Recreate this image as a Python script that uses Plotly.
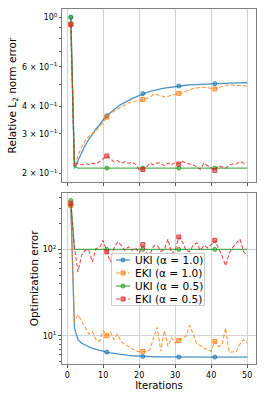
import plotly.graph_objects as go

iterations = list(range(1, 51))

# Top panel: relative L2 norm error
uki_a1_rel = [1.00, 0.210, 0.228, 0.248, 0.267, 0.284, 0.300, 0.316, 0.330, 0.348,
              0.362, 0.374, 0.386, 0.397, 0.407, 0.416, 0.424, 0.432, 0.439, 0.446,
              0.455, 0.460, 0.465, 0.470, 0.474, 0.478, 0.481, 0.484, 0.487, 0.490,
              0.492, 0.494, 0.496, 0.498, 0.499, 0.500, 0.501, 0.502, 0.503, 0.504,
              0.504, 0.505, 0.506, 0.506, 0.507, 0.507, 0.508, 0.508, 0.509, 0.509]
eki_a1_rel = [0.93, 0.214, 0.240, 0.262, 0.280, 0.292, 0.300, 0.310, 0.325, 0.340,
              0.357, 0.372, 0.380, 0.388, 0.396, 0.405, 0.413, 0.418, 0.420, 0.424,
              0.428, 0.432, 0.438, 0.452, 0.450, 0.446, 0.440, 0.442, 0.448, 0.452,
              0.456, 0.458, 0.466, 0.474, 0.480, 0.482, 0.486, 0.486, 0.484, 0.480,
              0.477, 0.484, 0.490, 0.495, 0.497, 0.497, 0.496, 0.497, 0.494, 0.491]
uki_a05_rel = [1.00, 0.216, 0.211, 0.211, 0.211, 0.211, 0.211, 0.211, 0.211, 0.211,
               0.211, 0.211, 0.211, 0.211, 0.211, 0.211, 0.211, 0.211, 0.211, 0.211,
               0.211, 0.211, 0.211, 0.211, 0.211, 0.211, 0.211, 0.211, 0.211, 0.211,
               0.211, 0.211, 0.211, 0.211, 0.211, 0.211, 0.211, 0.211, 0.211, 0.211,
               0.211, 0.211, 0.211, 0.211, 0.211, 0.211, 0.211, 0.211, 0.211, 0.211]
eki_a05_rel = [0.93, 0.214, 0.222, 0.218, 0.221, 0.219, 0.222, 0.220, 0.226, 0.232,
               0.239, 0.233, 0.225, 0.228, 0.222, 0.225, 0.222, 0.224, 0.220, 0.207,
               0.208, 0.213, 0.222, 0.218, 0.223, 0.222, 0.216, 0.222, 0.218, 0.224,
               0.220, 0.226, 0.222, 0.220, 0.218, 0.214, 0.208, 0.222, 0.216, 0.211,
               0.206, 0.216, 0.213, 0.211, 0.218, 0.220, 0.220, 0.226, 0.222, 0.223]

# Bottom panel: optimization error
uki_a1_opt = [330, 12.3, 9.0, 8.2, 7.8, 7.4, 7.15, 6.95, 6.75, 6.6,
              6.45, 6.33, 6.22, 6.12, 6.04, 5.97, 5.91, 5.86, 5.82, 5.78,
              5.75, 5.73, 5.71, 5.70, 5.69, 5.68, 5.67, 5.67, 5.66, 5.66,
              5.66, 5.66, 5.65, 5.65, 5.65, 5.65, 5.65, 5.65, 5.65, 5.65,
              5.65, 5.65, 5.65, 5.65, 5.65, 5.65, 5.65, 5.65, 5.65, 5.65]
eki_a1_opt = [325, 14.5, 17.5, 15.0, 12.5, 10.5, 11.2, 9.0, 8.6, 11.5,
              10.0, 11.0, 9.0, 10.5, 8.5, 8.0, 7.5, 7.0, 6.7, 6.5,
              6.6, 6.5, 6.9, 9.5, 12.5, 6.6, 11.5, 7.5, 9.5, 8.2,
              8.8, 9.5, 9.8, 13.2, 10.5, 8.0, 7.7, 7.2, 6.9, 6.6,
              8.6, 7.5, 7.8, 12.3, 6.4, 6.5, 6.6, 8.0, 9.0, 8.2]
uki_a05_opt = [370, 100.5, 100.5, 100.5, 100.5, 100.5, 100.5, 100.5, 100.5, 100.5,
               100.5, 100.5, 100.5, 100.5, 100.5, 100.5, 100.5, 100.5, 100.5, 100.5,
               100.5, 100.5, 100.5, 100.5, 100.5, 100.5, 100.5, 100.5, 100.5, 100.5,
               100.5, 100.5, 100.5, 100.5, 100.5, 100.5, 100.5, 100.5, 100.5, 100.5,
               100.5, 100.5, 100.5, 100.5, 100.5, 100.5, 100.5, 100.5, 100.5, 100.5]
eki_a05_opt = [345, 105, 55, 86, 99, 98, 72, 103, 106, 128,
               94, 72, 104, 123, 112, 98, 108, 98, 105, 90,
               114, 92, 88, 110, 112, 95, 100, 132, 90, 98,
               140, 123, 98, 94, 112, 120, 98, 112, 105, 114,
               128, 104, 85, 65, 90, 106, 118, 132, 95, 84]

series_names = ["UKI (α = 1.0)", "EKI (α = 1.0)", "UKI (α = 0.5)", "EKI (α = 0.5)"]

x_ticks = [0, 10, 20, 30, 40, 50]
top_tickvals = [0.2, 0.3, 0.4, 0.6, 1.0]
top_ticktext = ["2 × 10<sup>−1</sup>", "3 × 10<sup>−1</sup>", "4 × 10<sup>−1</sup>",
                "6 × 10<sup>−1</sup>", "10<sup>0</sup>"]
top_minor = [0.5, 0.7, 0.8, 0.9]
bot_tickvals = [10, 100]
bot_ticktext = ["10<sup>1</sup>", "10<sup>2</sup>"]
bot_minor = [5, 6, 7, 8, 9, 20, 30, 40, 50, 60, 70, 80, 90, 200, 300, 400]

styles = [
    dict(rgb=(31, 119, 180), dash="solid", symbol="circle", width=1.3, a=0.8),
    dict(rgb=(255, 127, 14), dash="4px,2px", symbol="square", width=1.1, a=0.8),
    dict(rgb=(44, 160, 44), dash="solid", symbol="circle", width=1.3, a=0.8),
    dict(rgb=(214, 39, 40), dash="4px,2px", symbol="square", width=1.1, a=0.8),
]


def rgba(rgb, a):
    return "rgba(%d,%d,%d,%.2f)" % (rgb[0], rgb[1], rgb[2], a)


fig = go.Figure()

top_data = [uki_a1_rel, eki_a1_rel, uki_a05_rel, eki_a05_rel]
bot_data = [uki_a1_opt, eki_a1_opt, uki_a05_opt, eki_a05_opt]

MS = 4
for data, xa, ya in [(top_data, "x", "y"), (bot_data, "x2", "y2")]:
    for k, ys in enumerate(data):
        st = styles[k]
        fig.add_trace(go.Scatter(
            x=iterations, y=ys, mode="lines", xaxis=xa, yaxis=ya,
            line=dict(color=rgba(st["rgb"], st["a"]), width=st["width"], dash=st["dash"]),
            showlegend=False, hoverinfo="skip"))
        fig.add_trace(go.Scatter(
            x=iterations[::10], y=ys[::10], mode="markers", xaxis=xa, yaxis=ya,
            marker=dict(symbol=st["symbol"], size=MS, color=rgba(st["rgb"], 0.45),
                        line=dict(color=rgba(st["rgb"], 0.85), width=1)),
            showlegend=False, hoverinfo="skip"))

FONT = "DejaVu Sans"
TICK = 8
frame = "#808080"
grid = "#d3d3d3"
xr = [-1.45, 52.45]

W, H = 266, 399
ML, MR, MT, MB = 62, 10, 9, 35
PW, PH = W - ML - MR, H - MT - MB


def px_x(px):
    return (px - ML) / PW


def px_y(py):
    return (H - MB - py) / PH


# Custom compact legend (matplotlib-like) drawn in paper coordinates
shapes = []
annotations = []
box = dict(x0=111.5, x1=204.5, y0=253.5, y1=305.5)
shapes.append(dict(type="rect", xref="paper", yref="paper", layer="above",
                   x0=px_x(box["x0"]), x1=px_x(box["x1"]),
                   y0=px_y(box["y1"]), y1=px_y(box["y0"]),
                   fillcolor="rgba(255,255,255,0.8)", line=dict(color="#cccccc", width=1)))
entry_y = [260, 273, 286, 299]
for k, name in enumerate(series_names):
    st = styles[k]
    cy = px_y(entry_y[k])
    shapes.append(dict(type="line", xref="paper", yref="paper", layer="above",
                       x0=px_x(116), x1=px_x(130), y0=cy, y1=cy,
                       line=dict(color=rgba(st["rgb"], st["a"]), width=st["width"],
                                 dash=st["dash"])))
    half = 2.0
    shapes.append(dict(type="circle" if st["symbol"] == "circle" else "rect",
                       xref="paper", yref="paper", layer="above",
                       x0=px_x(123 - half), x1=px_x(123 + half),
                       y0=px_y(entry_y[k] + half), y1=px_y(entry_y[k] - half),
                       fillcolor=rgba(st["rgb"], 0.45),
                       line=dict(color=rgba(st["rgb"], 0.85), width=1)))
    annotations.append(dict(text=name, xref="paper", yref="paper",
                            x=px_x(133), y=cy, xanchor="left", yanchor="middle",
                            showarrow=False, font=dict(size=10.5, family=FONT, color="black")))

common_x = dict(range=xr, tickvals=x_ticks, ticks="outside", ticklen=3, tickcolor="#555",
                showline=True, linecolor=frame, mirror=True, showgrid=True, gridcolor=grid,
                gridwidth=1, zeroline=False, tickfont=dict(size=TICK, color="black"))

fig.update_layout(
    width=W, height=H,
    margin=dict(l=ML, r=MR, t=MT, b=MB),
    paper_bgcolor="white", plot_bgcolor="white",
    font=dict(family=FONT, size=10, color="black"),
    showlegend=False,
    xaxis=dict(domain=[0, 1], anchor="y", showticklabels=False, **common_x),
    xaxis2=dict(domain=[0, 1], anchor="y2",
                title=dict(text="Iterations", standoff=0, font=dict(size=10)),
                **common_x),
    yaxis=dict(domain=[px_y(182), 1], anchor="x", type="log", range=[-0.738, 0.037],
               tickvals=top_tickvals, ticktext=top_ticktext, ticks="outside", ticklen=2,
               tickcolor="#555", showline=True, linecolor=frame, mirror=True,
               showgrid=False, zeroline=False, tickfont=dict(size=TICK),
               minor=dict(tickvals=top_minor, ticks="outside", ticklen=2, tickcolor="#555",
                          showgrid=False),
               title=dict(text="Relative L<sub>2</sub> norm error", font=dict(size=10.5),
                          standoff=3)),
    yaxis3=dict(overlaying="y", anchor="x", type="log", range=[-0.738, 0.037],
                tickvals=[1.0], ticks="outside", ticklen=3, tickcolor="#555",
                showticklabels=False, showgrid=True, gridcolor=grid, showline=False,
                zeroline=False),
    yaxis2=dict(domain=[0, px_y(192.7)], anchor="x2", type="log", range=[0.672, 2.66],
                tickvals=bot_tickvals, ticktext=bot_ticktext, ticks="outside", ticklen=3,
                tickcolor="#555", showline=True, linecolor=frame, mirror=True,
                showgrid=True, gridcolor=grid, zeroline=False, tickfont=dict(size=TICK),
                minor=dict(tickvals=bot_minor, ticks="outside", ticklen=2, tickcolor="#555",
                           showgrid=False),
                title=dict(text="Optimization error", font=dict(size=10.5), standoff=1)),
    shapes=shapes,
    annotations=annotations,
)

fig.write_html("out.html", config={"displayModeBar": False},
               post_script="document.body.style.margin='0px';")
